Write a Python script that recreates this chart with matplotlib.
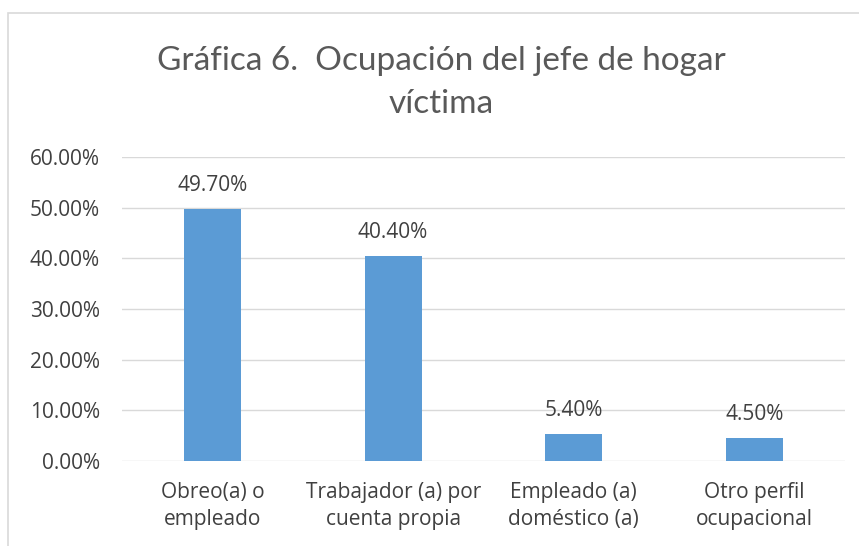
import matplotlib.pyplot as plt
from matplotlib.patches import Rectangle
from matplotlib.ticker import FuncFormatter

# Datos de la gráfica
categorias = ['Obreo(a) o\nempleado', 'Trabajador (a) por\ncuenta propia',
              'Empleado (a)\ndoméstico (a)', 'Otro perfil\nocupacional']
porcentajes = [49.70, 40.40, 5.40, 4.50]
ticks_y = [0, 10, 20, 30, 40, 50, 60]

plt.rcParams['font.family'] = ['Open Sans', 'DejaVu Sans']

fig = plt.figure(figsize=(8.59, 5.46), dpi=100)
ax = fig.add_axes([122 / 859, 1 - 461 / 546, 723 / 859, 304 / 546])

# marco de la gráfica
fig.patches.append(Rectangle((8 / 859, -0.05), 1.0, 1 - 13 / 546 + 0.05,
                             transform=fig.transFigure, fill=False,
                             edgecolor='#d9d9d9', linewidth=1.2))

x = range(len(categorias))
ax.bar(x, porcentajes, width=0.315, color='#5b9bd5', zorder=3)
for xi, v in zip(x, porcentajes):
    ax.annotate(f'{v:.2f}%', (xi, v), xytext=(0, 17), textcoords='offset points',
                ha='center', va='center', fontsize=15, color='#404040')

ax.set_xlim(-0.5, len(categorias) - 0.5)
ax.set_ylim(0, 60)
ax.set_yticks(ticks_y)
ax.yaxis.set_major_formatter(FuncFormatter(lambda v, p: f'{v:.2f}%'))
ax.set_xticks(list(x))
ax.set_xticklabels(categorias, fontsize=15, color='#404040', linespacing=1.38)
ax.tick_params(axis='y', labelsize=15, labelcolor='#404040', length=0, pad=16)
ax.tick_params(axis='x', length=0, pad=15)
ax.grid(axis='y', color='#d9d9d9', linewidth=1, zorder=0)
for s in ax.spines.values():
    s.set_visible(False)

fig.text(441 / 859, 1 - 61 / 546, 'Gráfica 6.  Ocupación del jefe de hogar',
         ha='center', va='center', fontsize=24, color='#595959',
         family=['Lato', 'DejaVu Sans'])
fig.text(441 / 859, 1 - 104 / 546, 'víctima',
         ha='center', va='center', fontsize=24, color='#595959',
         family=['Lato', 'DejaVu Sans'])

fig.savefig('out.png', dpi=100)
